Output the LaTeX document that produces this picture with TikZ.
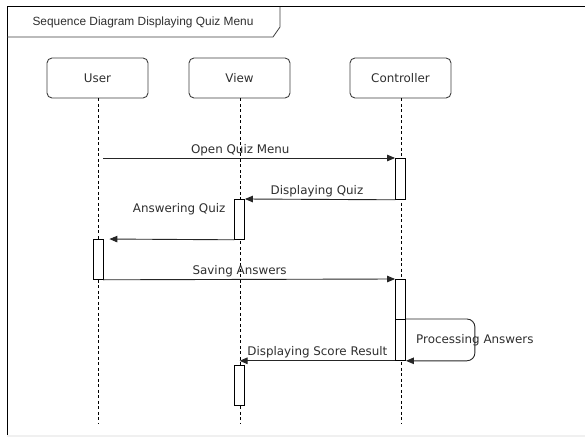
\documentclass[tikz,border=0pt]{standalone}
\usepackage{fontspec}
\setmainfont{DejaVu Sans}
\newfontfamily\titlefont{Liberation Sans}
\usetikzlibrary{arrows.meta}
\definecolor{ink}{HTML}{2E2E2E}
\definecolor{edge}{HTML}{3F3F3F}
\tikzset{
  head/.style={draw=edge, line width=0.9pt, rounded corners=5pt, minimum width=101pt, minimum height=40pt,
    inner sep=0pt, text=ink, font=\fontsize{11.9}{14}\selectfont},
  act/.style={draw=black, line width=0.8pt, fill=white, minimum width=10pt, inner sep=0pt, anchor=north},
  life/.style={draw=black, line width=0.8pt, dash pattern=on 3pt off 2.5pt},
  msg/.style={draw=black!85, line width=0.9pt, -{Triangle[length=8pt,width=6.5pt]}},
  lbl/.style={text=ink, font=\fontsize{11.9}{14}\selectfont, inner sep=2pt},
}
\begin{document}
\begin{tikzpicture}[x=1pt, y=-1pt]
\useasboundingbox (0,0) rectangle (585,438);

% frame and title tab
\draw[line width=1pt] (585,7) -- (7,7) -- (7,435);
\draw[line width=0.8pt, edge] (7,37) -- (273,37) -- (280,27) -- (280,7);
\node[text=ink, font=\titlefont\fontsize{11.9}{14}\selectfont] (title) at (143,22)
  {Sequence Diagram Displaying Quiz Menu};
\draw[black!6, line width=1.5pt] (7,436) -- (585,436);

% participants
\node[head] (user) at (97.5,78) {User};
\node[head] (view) at (239.5,78) {View};
\node[head] (ctrl) at (400.5,78) {Controller};

% lifeline ends
\coordinate (userEnd) at (98,423);
\coordinate (viewEnd) at (240,423);
\coordinate (ctrlEnd) at (401,423);
\draw[life] (user.south -| userEnd) -- (userEnd);
\draw[life] (view.south -| viewEnd) -- (viewEnd);
\draw[life] (ctrl.south -| ctrlEnd) -- (ctrlEnd);

% activation bars
\node[act, minimum height=41pt] (c1) at (400.5,158) {};
\node[act, minimum height=40pt] (v1) at (239.5,199) {};
\node[act, minimum height=40pt] (u1) at (98,239) {};
\node[act, minimum height=81pt] (c2) at (400.5,279) {};
\node[act, minimum height=41pt] (c3) at (400.5,319) {};
\node[act, minimum height=40pt] (v2) at (239.5,365) {};

% messages
\coordinate (m1s) at (103,158);
\draw[msg] (m1s) -- node[lbl, pos=0.47, above] {Open Quiz Menu} (c1.north west);
\draw[msg] (c1.south west) -- node[lbl, pos=0.52, above] {Displaying Quiz} (v1.north east);
\draw[msg, shorten >=6pt] (v1.south west) -- node[lbl, pos=0.42, yshift=30pt] {Answering Quiz} (u1.north east);
\draw[msg] (u1.south east) -- node[lbl, pos=0.467, above] {Saving Answers} (c2.north west);
\draw[msg, rounded corners=8pt] (c3.north east) -- ++(69,0)
  |- node[lbl, pos=0.25] {Processing Answers} (c3.south east);
\draw[msg] (c2.south west) -- node[lbl, pos=0.5, above] {Displaying Score Result} (v2.north |- c2.south);
\end{tikzpicture}
\end{document}
